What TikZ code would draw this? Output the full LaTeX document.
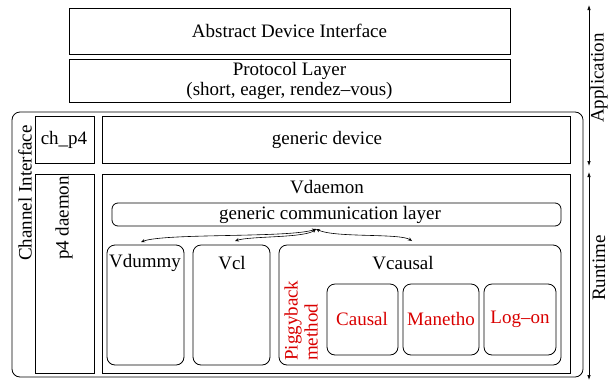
\documentclass[tikz,border=0pt]{standalone}
\usepackage{fontspec}
\setmainfont{Liberation Serif}[Ligatures=TeX]
\newfontfamily\timesfont{Liberation Serif}[Ligatures=TeX]
\usetikzlibrary{arrows.meta}
\begin{document}
\begin{tikzpicture}[x=1pt,y=-1pt,
  every node/.style={font=\timesfont\fontsize{19}{20}\selectfont, inner sep=0pt},
  sq/.style={draw, line width=0.8pt},
  rnd/.style={draw, line width=0.8pt, rounded corners=8pt},
  red txt/.style={text=red!85!black},
  link/.style={line width=0.6pt, {Stealth[open,length=4pt,width=3.5pt]}-{Stealth[open,length=4pt,width=3.5pt]}},
  span/.style={line width=0.7pt, {Latex[length=5pt,width=3.5pt]}-{Latex[length=5pt,width=3.5pt]}}
]
\useasboundingbox (0,0) rectangle (609,383);

% top layers
\draw[sq] (69,8) rectangle (510,54);
\node (adi) at (289.5,31) {Abstract Device Interface};
\draw[sq] (69,59) rectangle (510,102);
\node[align=center] (proto) at (289.5,81) {Protocol Layer\\(short, eager, rendez\textendash vous)};

% channel interface
\draw[rnd] (12,112) rectangle (583,377);
\node[rotate=90] (ci) at (25,193) {Channel Interface};

\draw[sq] (35,116) rectangle (94,163);
\node (chp4) at (64,140) {ch\_p4};
\draw[sq] (102,116) rectangle (570,163);
\node (gdev) at (327,140) {generic device};

\draw[sq] (35,174) rectangle (94,373);
\node[rotate=90] (p4d) at (64,218) {p4 daemon};
\draw[sq] (102,174) rectangle (570,373);
\node (vd) at (327,187) {Vdaemon};

\draw[rnd, rounded corners=6pt] (112,203) rectangle (561,226);
\node (gcl) at (330,215) {generic communication layer};
\coordinate (src) at (316,229);

\draw[rnd] (107,245) rectangle (184,365);
\node (vdummy) at (145,263) {Vdummy};
\draw[rnd] (193,245) rectangle (270,365);
\node (vcl) at (232,263) {Vcl};
\draw[rnd] (279,245) rectangle (561,365);
\node (vcausal) at (403,263) {Vcausal};
\coordinate (tdummy) at (141,242);
\coordinate (tcl) at (235,241);
\coordinate (tcausal) at (412,241);

\node[red txt, rotate=90, anchor=west, align=left] (pig) at (301,361) {Piggyback\\method};

\draw[rnd] (327,284) rectangle (398,355);
\node[red txt] (causal) at (362,319) {Causal};
\draw[rnd] (403,284) rectangle (479,355);
\node[red txt] (manetho) at (441,319) {Manetho};
\draw[rnd] (484,284) rectangle (556,355);
\node[red txt] (logon) at (520,319) {Log\textendash on};

% links
\draw[link] (src) .. controls (290,238) and (165,233) .. (tdummy);
\draw[link] (src) .. controls (305,238) and (250,236) .. (tcl);
\draw[link] (src) .. controls (335,238) and (400,233) .. (tcausal);

% right side spans
\coordinate (a1) at (589,5);
\coordinate (a2) at (589,166);
\coordinate (r1) at (589,172);
\coordinate (r2) at (589,380);
\draw[span] (a1) -- (a2);
\draw[span] (r1) -- (r2);
\node[rotate=90] (app) at (599,78) {Application};
\node[rotate=90] (run) at (599,268) {Runtime};
\end{tikzpicture}
\end{document}
